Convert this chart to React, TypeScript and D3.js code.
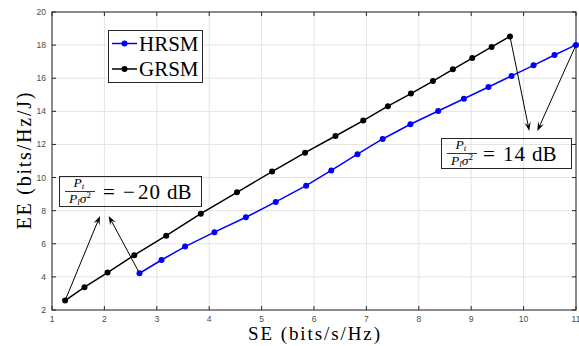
import * as d3 from 'd3';

// values
const hrsmSE = [2.67, 3.09, 3.54, 4.10, 4.70, 5.27, 5.85, 6.33, 6.83, 7.31, 7.84, 8.37, 8.86, 9.33, 9.77, 10.19, 10.59, 11.0];
const hrsmEE = [4.22, 5.02, 5.83, 6.70, 7.60, 8.53, 9.51, 10.43, 11.41, 12.33, 13.22, 14.02, 14.76, 15.47, 16.14, 16.78, 17.40, 18.01];
const grsmSE = [1.25, 1.62, 2.06, 2.57, 3.18, 3.84, 4.53, 5.20, 5.83, 6.41, 6.94, 7.41, 7.85, 8.27, 8.65, 9.02, 9.39, 9.74];
const grsmEE = [2.57, 3.38, 4.26, 5.31, 6.49, 7.82, 9.11, 10.36, 11.50, 12.51, 13.44, 14.31, 15.07, 15.83, 16.54, 17.22, 17.89, 18.52];

const xTicks = [1, 2, 3, 4, 5, 6, 7, 8, 9, 10, 11];
const yTicks = [2, 4, 6, 8, 10, 12, 14, 16, 18, 20];

// arrow heads (data units), tails sit on the first / last points of each series
const lowHeads = [[1.916, 7.68], [2.082, 7.68]];
const highHeads = [[10.109, 12.81], [10.262, 12.81]];

const W = 579, H = 346;
const m = { left: 52, right: 3, top: 12, bottom: 36 };

const x = d3.scaleLinear().domain([1, 11]).range([m.left, W - m.right]);
const y = d3.scaleLinear().domain([2, 20]).range([H - m.bottom, m.top]);

const serif = '"Liberation Serif", "Times New Roman", serif';
const axisCol = '#262626';

function Arrow({ from, to }: { from: [number, number]; to: [number, number] }) {
  const [x0, y0] = from, [x1, y1] = to;
  const a = Math.atan2(y1 - y0, x1 - x0);
  const L = 9, w = 3.2;
  const bx = x1 - L * Math.cos(a), by = y1 - L * Math.sin(a);
  const nx = -Math.sin(a), ny = Math.cos(a);
  const ix = x1 - L * 0.6 * Math.cos(a), iy = y1 - L * 0.6 * Math.sin(a);
  const head = `M${x1},${y1}L${bx + nx * w},${by + ny * w}L${ix},${iy}L${bx - nx * w},${by - ny * w}Z`;
  return (
    <g>
      <line x1={x0} y1={y0} x2={ix} y2={iy} stroke="#000" strokeWidth={1} />
      <path d={head} fill="#000" />
    </g>
  );
}

// P_t over P_l sigma^2, bar = y of the fraction rule
function Frac({ cx, bar }: { cx: number; bar: number }) {
  return (
    <g fontFamily={serif} fill="#000">
      <text x={cx - 1} y={bar - 4.5} textAnchor="middle" fontSize={13.5} fontStyle="italic">
        P<tspan fontSize={9} dy={1.5}>t</tspan>
      </text>
      <line x1={cx - 15} x2={cx + 15} y1={bar} y2={bar} stroke="#000" strokeWidth={0.8} />
      <text x={cx} y={bar + 11} textAnchor="middle" fontSize={13.5} fontStyle="italic">
        P<tspan fontSize={9} dy={2}>l</tspan><tspan dy={-2}>σ</tspan><tspan fontSize={9} fontStyle="normal" dy={-5}>2</tspan>
      </text>
    </g>
  );
}

export default function App() {
  const path = (xs: number[], ys: number[]) =>
    d3.line<number>().x((_, i) => x(xs[i])).y((_, i) => y(ys[i]))(xs) as string;

  const x0 = x(1), x1 = x(11), y0 = y(2), y1 = y(20);

  return (
    <svg width={W} height={H} style={{ position: 'absolute', left: 0, top: 0, background: '#fff' }}>
      {/* grid */}
      {xTicks.map((t) => (
        <line key={'gx' + t} x1={x(t)} x2={x(t)} y1={y0} y2={y1} stroke="#e3e3e3" strokeWidth={1} />
      ))}
      {yTicks.map((t) => (
        <line key={'gy' + t} x1={x0} x2={x1} y1={y(t)} y2={y(t)} stroke="#e3e3e3" strokeWidth={1} />
      ))}

      {/* box + inward ticks */}
      <rect x={x0} y={y1} width={x1 - x0} height={y0 - y1} fill="none" stroke={axisCol} strokeWidth={1} />
      {xTicks.map((t) => (
        <g key={'tx' + t} stroke={axisCol}>
          <line x1={x(t)} x2={x(t)} y1={y0} y2={y0 - 4} />
          <line x1={x(t)} x2={x(t)} y1={y1} y2={y1 + 4} />
        </g>
      ))}
      {yTicks.map((t) => (
        <g key={'ty' + t} stroke={axisCol}>
          <line x1={x0} x2={x0 + 4} y1={y(t)} y2={y(t)} />
          <line x1={x1} x2={x1 - 4} y1={y(t)} y2={y(t)} />
        </g>
      ))}
      <g fontFamily='"Liberation Sans", Arial, sans-serif' fontSize={8.5} fill="#4a4a4a">
        {xTicks.map((t) => (
          <text key={'lx' + t} x={x(t)} y={y0 + 12} textAnchor="middle">{t}</text>
        ))}
        {yTicks.map((t) => (
          <text key={'ly' + t} x={x0 - 6} y={y(t) + 3} textAnchor="end">{t}</text>
        ))}
      </g>

      {/* series */}
      <path d={path(grsmSE, grsmEE)} fill="none" stroke="#000" strokeWidth={1.5} />
      {grsmSE.map((v, i) => (
        <circle key={'gp' + i} cx={x(v)} cy={y(grsmEE[i])} r={3} fill="#000" />
      ))}
      <path d={path(hrsmSE, hrsmEE)} fill="none" stroke="#0000ff" strokeWidth={1.5} />
      {hrsmSE.map((v, i) => (
        <circle key={'hp' + i} cx={x(v)} cy={y(hrsmEE[i])} r={3} fill="#0000ff" />
      ))}

      {/* axis labels */}
      <text x={(x0 + x1) / 2} y={339.5} textAnchor="middle" fontFamily={serif} fontSize={19}
        textLength={132} lengthAdjust="spacing">SE (bits/s/Hz)</text>
      <text transform={`translate(31,${(y0 + y1) / 2}) rotate(-90)`} textAnchor="middle" fontFamily={serif}
        fontSize={20} textLength={137} lengthAdjust="spacing">EE (bits/Hz/J)</text>

      {/* legend */}
      <rect x={108.5} y={30.5} width={94} height={52} fill="#fff" stroke={axisCol} strokeWidth={1} />
      <line x1={112} x2={137} y1={43.5} y2={43.5} stroke="#0000ff" strokeWidth={1.5} />
      <circle cx={124.5} cy={43.5} r={3} fill="#0000ff" />
      <text x={139} y={50.5} fontFamily={serif} fontSize={21}>HRSM</text>
      <line x1={112} x2={137} y1={69} y2={69} stroke="#000" strokeWidth={1.5} />
      <circle cx={124.5} cy={69} r={3} fill="#000" />
      <text x={139} y={76} fontFamily={serif} fontSize={21}>GRSM</text>

      {/* annotation arrows */}
      {lowHeads.map((h, i) => {
        const tail: [number, number] = i === 0 ? [x(grsmSE[0]), y(grsmEE[0])] : [x(hrsmSE[0]), y(hrsmEE[0])];
        return <Arrow key={'la' + i} from={tail} to={[x(h[0]), y(h[1])]} />;
      })}
      {highHeads.map((h, i) => {
        const n = grsmSE.length - 1, k = hrsmSE.length - 1;
        const tail: [number, number] = i === 0 ? [x(grsmSE[n]), y(grsmEE[n])] : [x(hrsmSE[k]), y(hrsmEE[k])];
        return <Arrow key={'ha' + i} from={tail} to={[x(h[0]), y(h[1])]} />;
      })}

      {/* text boxes */}
      <rect x={59.5} y={176.5} width={142} height={30} fill="none" stroke={axisCol} strokeWidth={1} />
      <Frac cx={80} bar={191.5} />
      <text y={199} fontFamily={serif} fontSize={21}>
        <tspan x={103}>=</tspan><tspan x={123}>−</tspan><tspan x={138} letterSpacing={1}>20</tspan><tspan x={167}>dB</tspan>
      </text>

      <rect x={441.5} y={138.5} width={130} height={30} fill="none" stroke={axisCol} strokeWidth={1} />
      <Frac cx={462} bar={153.5} />
      <text y={161} fontFamily={serif} fontSize={21}>
        <tspan x={483}>=</tspan><tspan x={503} letterSpacing={1}>14</tspan><tspan x={532}>dB</tspan>
      </text>
    </svg>
  );
}
